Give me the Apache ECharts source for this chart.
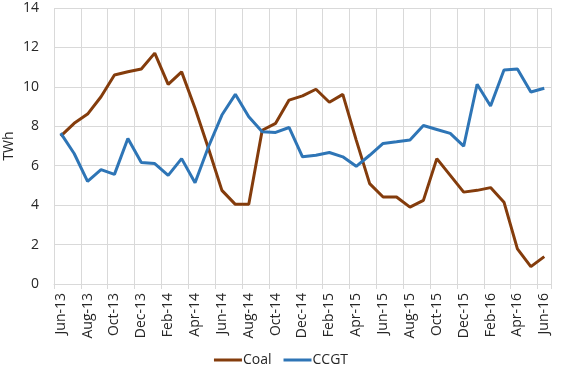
<!DOCTYPE html>
<html>
<head>
<meta charset="utf-8">
<script src="https://cdn.jsdelivr.net/npm/echarts@6/dist/echarts.min.js"></script>
<style>html,body{margin:0;padding:0;background:#fff;}#c{width:562px;height:370px;}</style>
</head>
<body>
<div id="c"></div>
<script>
const categories = ['Jun-13','Jul-13','Aug-13','Sep-13','Oct-13','Nov-13','Dec-13','Jan-14','Feb-14','Mar-14','Apr-14','May-14','Jun-14','Jul-14','Aug-14','Sep-14','Oct-14','Nov-14','Dec-14','Jan-15','Feb-15','Mar-15','Apr-15','May-15','Jun-15','Jul-15','Aug-15','Sep-15','Oct-15','Nov-15','Dec-15','Jan-16','Feb-16','Mar-16','Apr-16','May-16','Jun-16'];
const coal = [7.5,8.15,8.62,9.5,10.6,10.77,10.91,11.71,10.13,10.76,8.91,6.87,4.75,4.04,4.04,7.8,8.15,9.33,9.54,9.88,9.22,9.62,7.3,5.09,4.41,4.41,3.9,4.24,6.36,5.51,4.66,4.75,4.89,4.15,1.78,0.88,1.39];
const ccgt = [7.65,6.62,5.21,5.8,5.56,7.38,6.16,6.11,5.51,6.36,5.14,6.96,8.57,9.62,8.48,7.72,7.69,7.94,6.45,6.53,6.67,6.45,5.97,6.53,7.13,7.21,7.3,8.04,7.84,7.64,6.99,10.13,9.03,10.86,10.9,9.74,9.93];
const yTicks = [0,2,4,6,8,10,12,14];
const yTitle = 'TWh';

const chart = echarts.init(document.getElementById('c'));
const font = 'Open Sans, sans-serif';
chart.setOption({
  animation: false,
  grid: {left: 54, right: 11, top: 8, bottom: 86, containLabel: false, outerBoundsMode: 'none'},
  graphic: [{
    type: 'text', x: 9, y: 146, rotation: Math.PI / 2,
    style: {text: yTitle, fontFamily: font, fontSize: 14, fill: '#262626', align: 'center', verticalAlign: 'middle'}
  }],
  legend: {
    bottom: 0, left: 'center', padding: [5, 5, 3, 5], itemWidth: 28, itemHeight: 3, itemGap: 12,
    icon: 'rect',
    textStyle: {fontFamily: font, fontSize: 14, color: '#262626', padding: [0,0,0,-4]},
    data: ['Coal','CCGT']
  },
  xAxis: {
    type: 'category', data: categories, boundaryGap: true,
    axisLine: {lineStyle: {color: '#d9d9d9'}},
    axisTick: {show: true, interval: 1, length: 5, lineStyle: {color: '#d9d9d9'}},
    axisLabel: {interval: 1, rotate: 90, fontFamily: font, fontSize: 14, color: '#262626', margin: 9},
    splitLine: {show: true, interval: 1, lineStyle: {color: '#d9d9d9'}}
  },
  yAxis: {
    type: 'value', min: yTicks[0], max: yTicks[yTicks.length-1], interval: 2,
    axisLine: {show: false}, axisTick: {show: false},
    axisLabel: {fontFamily: font, fontSize: 14, color: '#262626', margin: 15},
    splitLine: {lineStyle: {color: '#d9d9d9'}}
  },
  series: [
    {name: 'Coal', type: 'line', data: coal, symbol: 'none', lineStyle: {width: 3, color: '#843C0C'}, itemStyle: {color: '#843C0C'}},
    {name: 'CCGT', type: 'line', data: ccgt, symbol: 'none', lineStyle: {width: 3, color: '#2E75B6'}, itemStyle: {color: '#2E75B6'}}
  ]
});
</script>
</body>
</html>
